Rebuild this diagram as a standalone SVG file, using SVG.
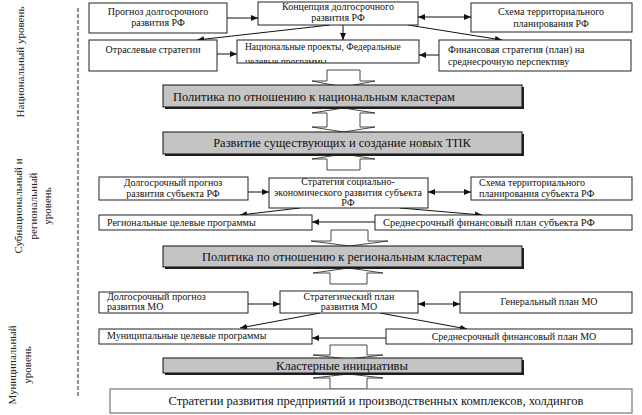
<svg xmlns="http://www.w3.org/2000/svg" width="642" height="415" viewBox="0 0 642 415">
<defs>
<style>
.bx{fill:#fff;stroke:#222;stroke-width:1}
.gb{fill:#c4c4c4;stroke:#111;stroke-width:1}
.sh{fill:#222}
.cn{stroke:#111;stroke-width:1;fill:none}
.ba{fill:#fff;stroke:#333;stroke-width:0.9}
</style>
<marker id="ah" markerWidth="7" markerHeight="6" refX="7" refY="3" orient="auto-start-reverse" markerUnits="userSpaceOnUse">
<path d="M0,0 L7,3 L0,6 z" fill="#111"/>
</marker>
<clipPath id="npclip"><rect x="237" y="40" width="182" height="23"/></clipPath>
</defs>

<g id="levels">
<text transform="translate(24,62) rotate(-90)" style="font-family:'Liberation Serif';font-size:11px" fill="#222" text-anchor="middle">Национальный уровень</text>
<text transform="translate(22,206) rotate(-90)" style="font-family:'Liberation Serif';font-size:11px" fill="#222" text-anchor="middle">Субнациональный и</text>
<text transform="translate(37,206) rotate(-90)" style="font-family:'Liberation Serif';font-size:11px" fill="#222" text-anchor="middle">региональный</text>
<text transform="translate(51,206) rotate(-90)" style="font-family:'Liberation Serif';font-size:11px" fill="#222" text-anchor="middle">уровень</text>
<text transform="translate(16,365) rotate(-90)" style="font-family:'Liberation Serif';font-size:11px" fill="#222" text-anchor="middle">Муниципальный</text>
<text transform="translate(31,365) rotate(-90)" style="font-family:'Liberation Serif';font-size:11px" fill="#222" text-anchor="middle">уровень</text>
<line x1="78" y1="8" x2="78" y2="398" stroke="#222" stroke-width="1" stroke-dasharray="4,2"/>
</g>

<g id="block-arrows">
<polygon class="ba" points="327,70 360,70 360,81 375,81 343.5,87 312,81 327,81"/>
<polygon class="ba" points="343.5,108 375,113 360,113 360,127 375,127 343.5,132 312,127 327,127 327,113 312,113"/>
<polygon class="ba" points="343.5,154 375,159 360,159 360,170 327,170 327,159 312,159"/>
<polygon class="ba" points="331,230 368,230 368,241 388,241 349.5,246 311,241 331,241"/>
<polygon class="ba" points="348.5,268 383,273 367,273 367,284 330,284 330,273 313,273"/>
<polygon class="ba" points="330,345 367,345 367,355 383,355 348.5,359 313,355 330,355"/>
<polygon class="ba" points="348.5,374 383,378 367,378 367,389 330,389 330,378 313,378"/>
</g>

<g id="connectors">
<line class="cn" x1="227" y1="18" x2="258" y2="18" marker-end="url(#ah)"/>
<line class="cn" x1="418" y1="17" x2="471" y2="17" marker-start="url(#ah)" marker-end="url(#ah)"/>
<line class="cn" x1="330" y1="25" x2="197" y2="40" marker-end="url(#ah)"/>
<line class="cn" x1="343" y1="25" x2="343" y2="40" marker-end="url(#ah)"/>
<line class="cn" x1="408" y1="25" x2="502" y2="40" marker-end="url(#ah)"/>
<line class="cn" x1="217" y1="54" x2="237" y2="54" marker-end="url(#ah)"/>
<line class="cn" x1="439" y1="55" x2="419" y2="55" marker-end="url(#ah)"/>
<line class="cn" x1="248" y1="192" x2="269" y2="192" marker-end="url(#ah)"/>
<line class="cn" x1="428" y1="192" x2="471" y2="192" marker-start="url(#ah)" marker-end="url(#ah)"/>
<line class="cn" x1="300" y1="208" x2="240" y2="215" marker-end="url(#ah)"/>
<line class="cn" x1="400" y1="208" x2="482" y2="215" marker-end="url(#ah)"/>
<line class="cn" x1="375" y1="222" x2="312" y2="222" marker-end="url(#ah)"/>
<line class="cn" x1="248" y1="304" x2="280" y2="304" marker-end="url(#ah)"/>
<line class="cn" x1="418" y1="304" x2="460" y2="304" marker-start="url(#ah)" marker-end="url(#ah)"/>
<line class="cn" x1="320" y1="313" x2="240" y2="328" marker-end="url(#ah)"/>
<line class="cn" x1="380" y1="313" x2="467" y2="329" marker-end="url(#ah)"/>
<line class="cn" x1="387" y1="338" x2="312" y2="338" marker-end="url(#ah)"/>
</g>

<g id="n-prognoz-rf">
<rect class="bx" x="89" y="3" width="138" height="30"/>
<text x="158" y="15" style="font-family:'Liberation Serif';font-size:10px" fill="#111" text-anchor="middle">Прогноз долгосрочного</text>
<text x="158" y="26" style="font-family:'Liberation Serif';font-size:10px" fill="#111" text-anchor="middle">развития РФ</text>
</g>
<g id="n-koncepciya">
<rect class="bx" x="258" y="2" width="160" height="23"/>
<text x="338" y="10" style="font-family:'Liberation Serif';font-size:10px" fill="#111" text-anchor="middle">Концепция долгосрочного</text>
<text x="338" y="21" style="font-family:'Liberation Serif';font-size:10px" fill="#111" text-anchor="middle">развития РФ</text>
</g>
<g id="n-shema-rf">
<rect class="bx" x="471" y="3" width="161" height="29"/>
<text x="551" y="15" style="font-family:'Liberation Serif';font-size:10px" fill="#111" text-anchor="middle">Схема территориального</text>
<text x="551" y="27" style="font-family:'Liberation Serif';font-size:10px" fill="#111" text-anchor="middle">планирования РФ</text>
</g>
<g id="n-otraslevye">
<rect class="bx" x="89" y="40" width="128" height="31"/>
<text x="153" y="53" style="font-family:'Liberation Serif';font-size:10px" fill="#111" text-anchor="middle">Отраслевые стратегии</text>
</g>
<g id="n-nacproekty">
<rect class="bx" x="237" y="40" width="182" height="23"/>
<g clip-path="url(#npclip)">
<text x="245" y="50" style="font-family:'Liberation Serif';font-size:9.5px" fill="#111">Национальные проекты, Федеральные</text>
<text x="245" y="65" style="font-family:'Liberation Serif';font-size:9.5px" fill="#111">целевые программы</text>
</g>
</g>
<g id="n-finstrat">
<rect class="bx" x="439" y="40" width="192" height="31"/>
<text x="448" y="53" style="font-family:'Liberation Serif';font-size:10px" fill="#111">Финансовая стратегия (план) на</text>
<text x="448" y="65" style="font-family:'Liberation Serif';font-size:10px" fill="#111">среднесрочную перспективу</text>
</g>

<g id="g-nac-klastery">
<rect class="sh" x="165" y="87" width="359" height="22"/>
<rect class="gb" x="163" y="85" width="359" height="22"/>
<text x="173" y="101" style="font-family:'Liberation Serif';font-size:12.5px" fill="#111">Политика по отношению к национальным кластерам</text>
</g>
<g id="g-tpk">
<rect class="sh" x="165" y="134" width="359" height="22"/>
<rect class="gb" x="163" y="132" width="359" height="22"/>
<text x="342" y="147" style="font-family:'Liberation Serif';font-size:12.5px" fill="#111" text-anchor="middle">Развитие существующих и создание новых ТПК</text>
</g>

<g id="n-prognoz-subj">
<rect class="bx" x="99" y="177" width="149" height="23"/>
<text x="173" y="186" style="font-family:'Liberation Serif';font-size:10px" fill="#111" text-anchor="middle">Долгосрочный прогноз</text>
<text x="173" y="197" style="font-family:'Liberation Serif';font-size:10px" fill="#111" text-anchor="middle">развития субъекта РФ</text>
</g>
<g id="n-strategiya-subj">
<rect class="bx" x="269" y="178" width="159" height="30"/>
<text x="348" y="185" style="font-family:'Liberation Serif';font-size:10px" fill="#111" text-anchor="middle">Стратегия социально-</text>
<text x="348" y="196" style="font-family:'Liberation Serif';font-size:10px" fill="#111" text-anchor="middle">экономического развития субъекта</text>
<text x="348" y="206" style="font-family:'Liberation Serif';font-size:10px" fill="#111" text-anchor="middle">РФ</text>
</g>
<g id="n-shema-subj">
<rect class="bx" x="471" y="177" width="161" height="23"/>
<text x="479" y="186" style="font-family:'Liberation Serif';font-size:10px" fill="#111">Схема территориального</text>
<text x="479" y="197" style="font-family:'Liberation Serif';font-size:10px" fill="#111">планирования субъекта РФ</text>
</g>
<g id="n-reg-programmy">
<rect class="bx" x="99" y="215" width="213" height="15"/>
<text x="107" y="226" style="font-family:'Liberation Serif';font-size:10px" fill="#111">Региональные целевые программы</text>
</g>
<g id="n-finplan-subj">
<rect class="bx" x="375" y="215" width="257" height="15"/>
<text x="383" y="226" style="font-family:'Liberation Serif';font-size:10.5px" fill="#111">Среднесрочный финансовый план субъекта РФ</text>
</g>

<g id="g-reg-klastery">
<rect class="sh" x="165" y="248" width="359" height="21"/>
<rect class="gb" x="163" y="246" width="359" height="21"/>
<text x="342" y="261" style="font-family:'Liberation Serif';font-size:12.5px" fill="#111" text-anchor="middle">Политика по отношению к региональным кластерам</text>
</g>

<g id="n-prognoz-mo">
<rect class="bx" x="99" y="292" width="149" height="21"/>
<text x="107" y="300" style="font-family:'Liberation Serif';font-size:10px" fill="#111">Долгосрочный прогноз</text>
<text x="107" y="310" style="font-family:'Liberation Serif';font-size:10px" fill="#111">развития МО</text>
</g>
<g id="n-strplan-mo">
<rect class="bx" x="280" y="291" width="138" height="22"/>
<text x="349" y="300" style="font-family:'Liberation Serif';font-size:10px" fill="#111" text-anchor="middle">Стратегический план</text>
<text x="349" y="310" style="font-family:'Liberation Serif';font-size:10px" fill="#111" text-anchor="middle">развития МО</text>
</g>
<g id="n-genplan-mo">
<rect class="bx" x="460" y="292" width="172" height="21"/>
<text x="549" y="305" style="font-family:'Liberation Serif';font-size:10px" fill="#111" text-anchor="middle">Генеральный план МО</text>
</g>
<g id="n-mun-programmy">
<rect class="bx" x="99" y="329" width="213" height="15"/>
<text x="107" y="339" style="font-family:'Liberation Serif';font-size:10px" fill="#111">Муниципальные целевые программы</text>
</g>
<g id="n-finplan-mo">
<rect class="bx" x="386" y="329" width="246" height="15"/>
<text x="514" y="340" style="font-family:'Liberation Serif';font-size:10px" fill="#111" text-anchor="middle">Среднесрочный финансовый план МО</text>
</g>

<g id="g-klaster-init">
<rect class="sh" x="165" y="360" width="359" height="15"/>
<rect class="gb" x="163" y="358" width="359" height="15"/>
<text x="342" y="370" style="font-family:'Liberation Serif';font-size:12.5px" fill="#111" text-anchor="middle">Кластерные инициативы</text>
</g>

<g id="n-strategii-predpr">
<rect x="110" y="389" width="522" height="24" fill="#fff" stroke="#777" stroke-width="1.2"/>
<text x="376" y="405" style="font-family:'Liberation Serif';font-size:12.5px" fill="#111" text-anchor="middle">Стратегии развития предприятий и производственных комплексов, холдингов</text>
</g>
</svg>
